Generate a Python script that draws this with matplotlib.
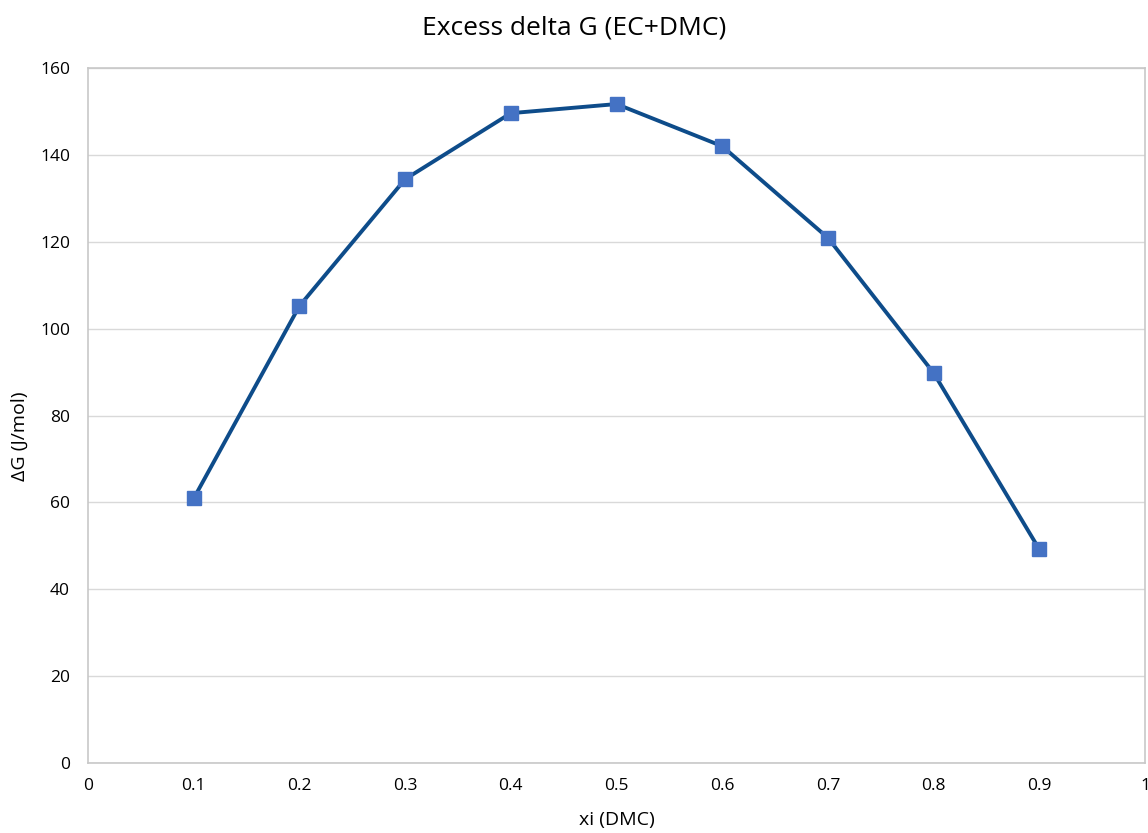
import matplotlib
matplotlib.use("Agg")
import matplotlib.pyplot as plt

x_vals = [0.1, 0.2, 0.3, 0.4, 0.5, 0.6, 0.7, 0.8, 0.9]
dG_vals = [60.9, 105.2, 134.4, 149.6, 151.7, 142.0, 120.9, 89.8, 49.2]
x_ticks = [0, 0.1, 0.2, 0.3, 0.4, 0.5, 0.6, 0.7, 0.8, 0.9, 1]
x_ticklabels = ["0", "0.1", "0.2", "0.3", "0.4", "0.5", "0.6", "0.7", "0.8", "0.9", "1"]
y_ticks = [0, 20, 40, 60, 80, 100, 120, 140, 160]

plt.rcParams['font.family'] = ['Open Sans', 'DejaVu Sans']

fig = plt.figure(figsize=(11.48, 8.33), dpi=100)
ax = fig.add_axes([88/1148, 70/833, (1145-88)/1148, (763-68)/833])

ax.plot(x_vals, dG_vals, color="#0E4C8A", linewidth=2.8, marker="s",
        markersize=10, markerfacecolor="#4472C4", markeredgecolor="#4472C4", zorder=3)

ax.set_xlim(0, 1)
ax.set_ylim(0, 160)
ax.set_xticks(x_ticks)
ax.set_xticklabels(x_ticklabels)
ax.set_yticks(y_ticks)
ax.grid(axis="y", color="#D9D9D9", linewidth=1)
ax.set_axisbelow(True)
for s in ax.spines.values():
    s.set_color("#C8C8C8")
    s.set_linewidth(1.2)
ax.tick_params(length=0, labelsize=12.5, colors="#000000")
ax.tick_params(axis="x", pad=11)
ax.tick_params(axis="y", pad=13)

ax.set_xlabel("xi (DMC)", fontsize=14, va="center")
ax.xaxis.set_label_coords(0.5, (763-820)/695)
ax.set_ylabel("ΔG (J/mol)", fontsize=14, va="center")
ax.yaxis.set_label_coords((20-88)/1057, 0.47)
fig.text(0.5, 1-28/833, "Excess delta G (EC+DMC)", fontsize=19, ha="center", va="center")

fig.savefig("out.png", dpi=100)
